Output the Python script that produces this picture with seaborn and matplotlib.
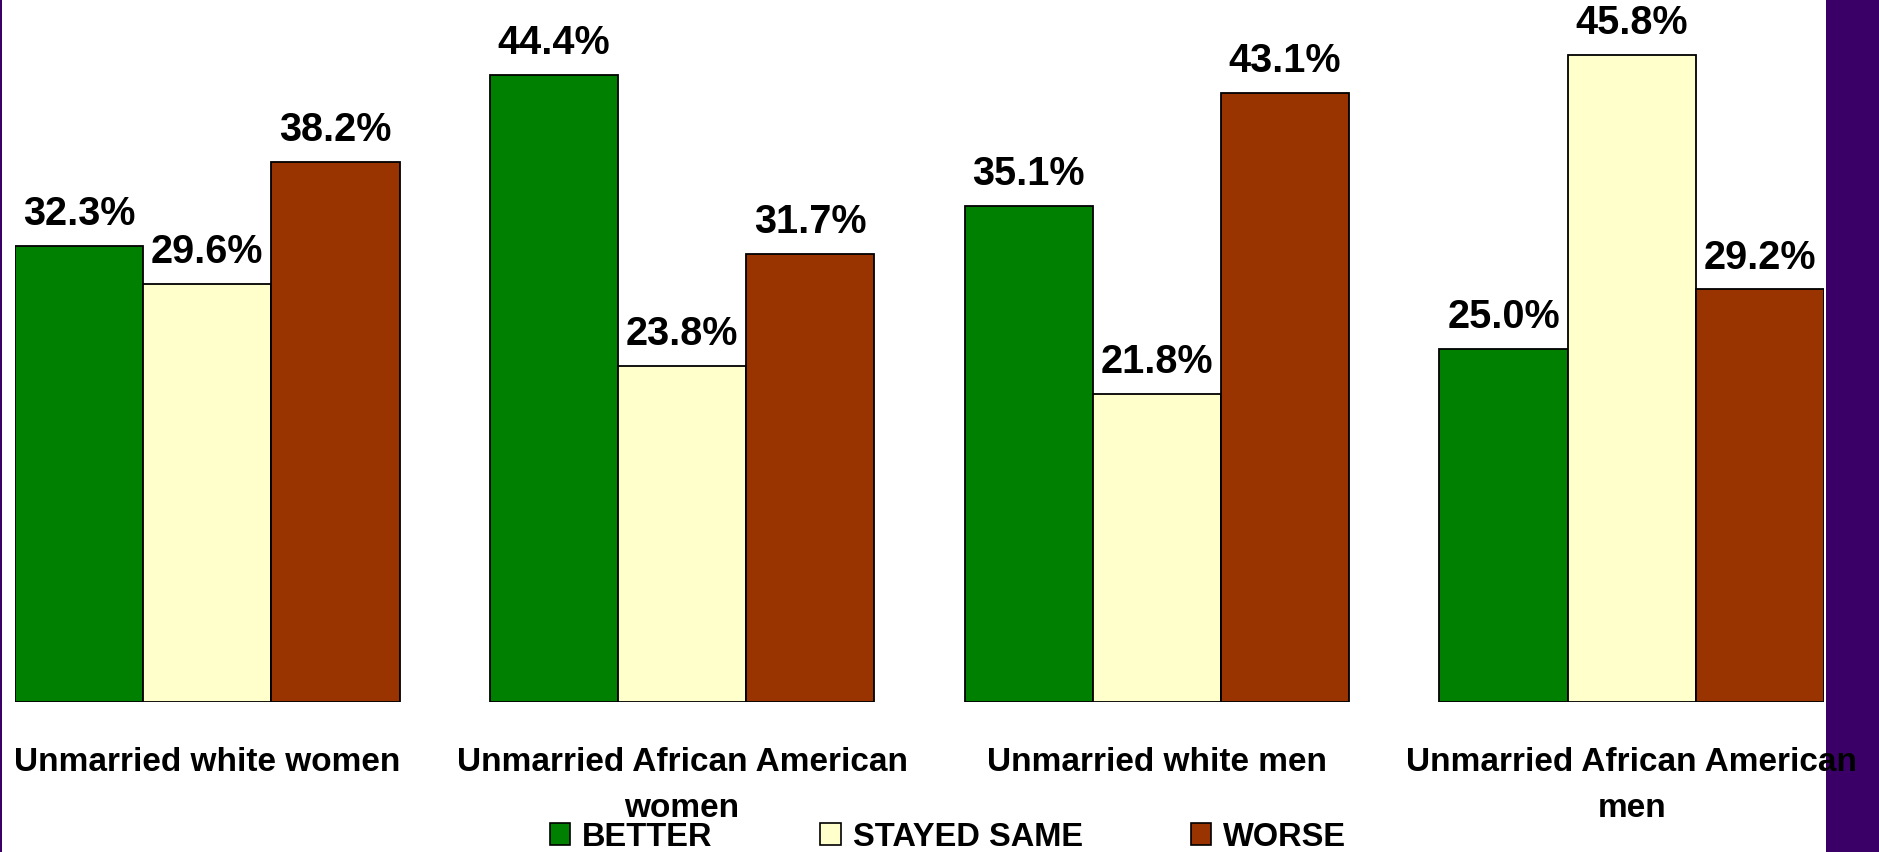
import numpy as np
import pandas as pd
import matplotlib.pyplot as plt
import seaborn as sns
from matplotlib.patches import Rectangle

groups = ['Unmarried white women', 'Unmarried African American\nwomen',
          'Unmarried white men', 'Unmarried African American\nmen']
responses = ['BETTER', 'STAYED SAME', 'WORSE']
better = [32.3, 44.4, 35.1, 25.0]
stayed_same = [29.6, 23.8, 21.8, 45.8]
worse = [38.2, 31.7, 43.1, 29.2]
colors = ['#008000', '#FFFFCC', '#993300']
purple = '#3A0068'

df = pd.DataFrame({
    'group': groups * 3,
    'response': [r for r in responses for _ in groups],
    'value': better + stayed_same + worse,
})

sns.set_theme(style='white')
plt.rcParams['font.family'] = ['Liberation Sans', 'DejaVu Sans']
plt.rcParams['font.weight'] = 'bold'
plt.rcParams['text.color'] = 'black'
plt.rcParams['xtick.color'] = 'black'

W, H = 1879, 853
fig = plt.figure(figsize=(W / 100, H / 100), dpi=100)
fig.patch.set_facecolor('white')

# axes: bars span x 15..1824 px, baseline at y 703 px
ax = fig.add_axes([15 / W, (H - 703) / H, (1824 - 15) / W, 703 / H])
ax.set_facecolor('none')

sns.barplot(data=df, x='group', y='value', hue='response', order=groups,
            hue_order=responses, palette=colors, width=0.81, gap=0,
            edgecolor='black', linewidth=1.3, saturation=1, ax=ax, legend=False)

for cont in ax.containers:
    ax.bar_label(cont, fmt='%.1f%%', padding=10, fontsize=28.5, fontweight='bold',
                 color='black')

ax.set_xlim(-0.405, 3.405)
ax.set_ylim(0, 703 / 14.13)
for s in ax.spines.values():
    s.set_visible(False)
ax.set_xlabel('')
ax.set_ylabel('')
ax.set_yticks([])
ax.tick_params(axis='x', length=0, pad=32, colors='black')
ax.set_xticks(range(len(groups)))
ax.set_xticklabels(groups, fontsize=24, fontweight='bold', linespacing=1.62,
                   color='black')

# legend
handles = [Rectangle((0, 0), 1, 1, facecolor=c, edgecolor='black', linewidth=1.2)
           for c in colors]
fig.legend(handles, responses, loc='center', bbox_to_anchor=(948 / W, 1 - 838 / H),
           ncol=3, frameon=False, handlelength=0.62, handleheight=0.62,
           handletextpad=0.37, columnspacing=3.3, borderaxespad=0, borderpad=0,
           prop={'family': ['Liberation Sans', 'DejaVu Sans'],
                 'weight': 'bold', 'size': 23.5})

# purple border strips
fig.patches.append(Rectangle((0, 0), 2 / W, 1, transform=fig.transFigure,
                             facecolor=purple, edgecolor='none', zorder=-1))
fig.patches.append(Rectangle((1826 / W, 0), (W - 1826) / W, 1, transform=fig.transFigure,
                             facecolor=purple, edgecolor='none', zorder=-1))

fig.savefig('out.png', dpi=100)
